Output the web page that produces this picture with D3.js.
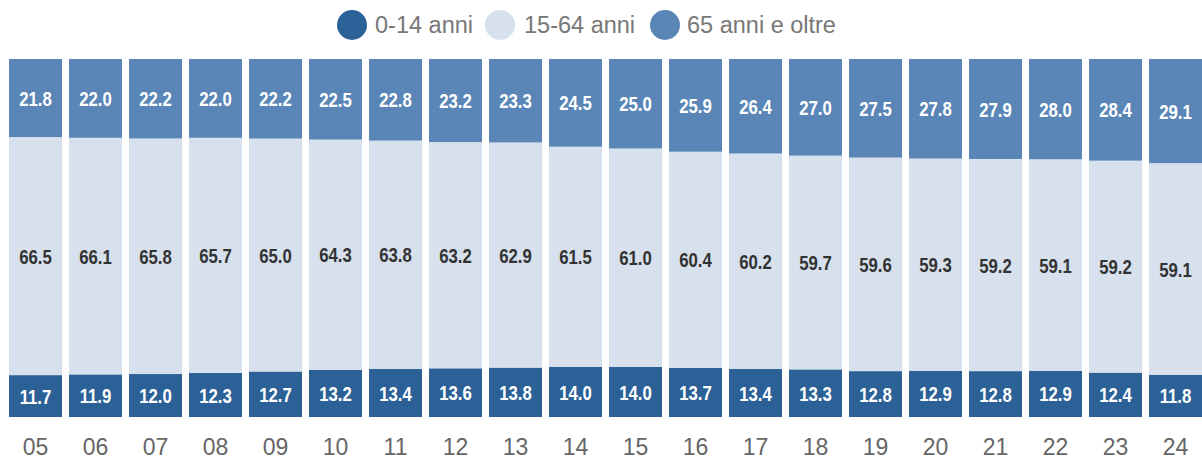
<!DOCTYPE html>
<html><head><meta charset="utf-8">
<script src="https://cdn.jsdelivr.net/npm/d3@7"></script>
<style>
html,body{margin:0;padding:0;background:#fff;}
svg{display:block;}
</style></head>
<body>
<svg id="chart" width="1202" height="466"></svg>
<script>
const years = ["05","06","07","08","09","10","11","12","13","14","15","16","17","18","19","20","21","22","23","24"];
const young = [11.7,11.9,12.0,12.3,12.7,13.2,13.4,13.6,13.8,14.0,14.0,13.7,13.4,13.3,12.8,12.9,12.8,12.9,12.4,11.8];
const working = [66.5,66.1,65.8,65.7,65.0,64.3,63.8,63.2,62.9,61.5,61.0,60.4,60.2,59.7,59.6,59.3,59.2,59.1,59.2,59.1];
const elderly = [21.8,22.0,22.2,22.0,22.2,22.5,22.8,23.2,23.3,24.5,25.0,25.9,26.4,27.0,27.5,27.8,27.9,28.0,28.4,29.1];
const seriesNames = ["0-14 anni","15-64 anni","65 anni e oltre"];
const keys = ["young","working","elderly"];
const colors = ["#2c6198","#d7e1ed","#5a86b7"];
const labelColors = ["#ffffff","#333333","#ffffff"];

const rows = years.map((y,i)=>({year:y, young:young[i], working:working[i], elderly:elderly[i]}));
const svg = d3.select("#chart");

const x = d3.scaleBand().domain(years).range([9,1202]).paddingInner(7/60).paddingOuter(0);
const y = d3.scaleLinear().domain([0,1]).range([417,59]);
const stack = d3.stack().keys(keys).offset(d3.stackOffsetExpand);
const series = stack(rows);

const g = svg.append("g");
series.forEach((s,si)=>{
  const grp = g.append("g");
  grp.selectAll("rect").data(s).enter().append("rect")
    .attr("x", d=>x(d.data.year))
    .attr("width", x.bandwidth())
    .attr("y", d=>y(d[1]))
    .attr("height", d=>y(d[0])-y(d[1]))
    .attr("fill", colors[si]);
  grp.selectAll("text").data(s).enter().append("text")
    .attr("transform", d=>`translate(${x(d.data.year)+x.bandwidth()/2},${(y(d[0])+y(d[1]))/2}) scale(0.8,1)`)
    .attr("dy","0.36em")
    .attr("text-anchor","middle")
    .attr("font-family","'Liberation Sans',Arial,sans-serif")
    .attr("font-weight","bold")
    .attr("font-size","21px")
    .attr("fill", labelColors[si])
    .text(d=>d.data[keys[si]].toFixed(1));
});

// x axis
const axis = svg.append("g").attr("transform","translate(0,417)")
  .call(d3.axisBottom(x).tickSize(0).tickPadding(22));
axis.select(".domain").remove();
axis.selectAll("text")
  .attr("font-family","'Liberation Sans',Arial,sans-serif")
  .attr("font-size","23px")
  .attr("fill","#666");

// legend
const legendItems = [
  {cx:352, tx:375},
  {cx:500, tx:524},
  {cx:665, tx:687}
];
const lg = svg.append("g");
seriesNames.forEach((n,i)=>{
  lg.append("circle").attr("cx",legendItems[i].cx).attr("cy",25).attr("r",15).attr("fill",colors[i]);
  lg.append("text").attr("x",legendItems[i].tx).attr("y",25).attr("dy","0.36em")
    .attr("font-family","'Liberation Sans',Arial,sans-serif")
    .attr("font-size","23.5px").attr("fill","#777").text(n);
});
</script>
</body></html>
